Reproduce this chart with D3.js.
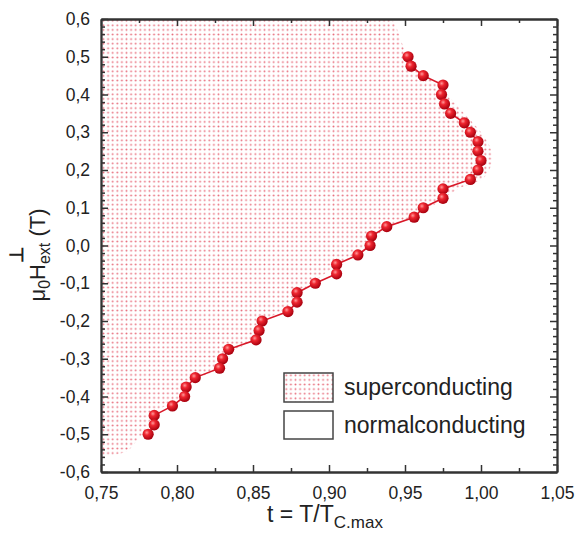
<!DOCTYPE html>
<html lang="en">
<head>
<meta charset="UTF-8">
<title>Phase diagram</title>
<script src="https://d3js.org/d3.v7.min.js"></script>
<style>
  body { margin: 0; background: #fff; }
  text { font-family: Arial, "Liberation Sans", sans-serif; fill: #222; }
</style>
</head>
<body>
<div id="chart"></div>
<script>
// measured boundary: reduced temperature t and field H (T)
const fieldH = [0.500, 0.475, 0.450, 0.425, 0.400, 0.375, 0.350, 0.325, 0.300, 0.275,
                0.250, 0.225, 0.200, 0.175, 0.150, 0.125, 0.100, 0.075, 0.050, 0.025,
                0.000, -0.025, -0.050, -0.075, -0.100, -0.125, -0.150, -0.175, -0.200, -0.225,
                -0.250, -0.275, -0.300, -0.325, -0.350, -0.375, -0.400, -0.425, -0.450, -0.475, -0.500];
const tempT = [0.952, 0.954, 0.962, 0.975, 0.974, 0.976, 0.980, 0.989, 0.993, 0.998,
               0.998, 1.000, 0.998, 0.993, 0.975, 0.975, 0.962, 0.956, 0.938, 0.928,
               0.927, 0.919, 0.905, 0.905, 0.891, 0.879, 0.879, 0.873, 0.856, 0.854,
               0.852, 0.834, 0.830, 0.828, 0.812, 0.806, 0.805, 0.797, 0.785, 0.785, 0.781];

// outline of the dotted (superconducting) area, [t, H]
const shadeEdge = [[0.75, 0.6], [0.940, 0.6], [0.946, 0.56], [0.949, 0.525], [0.955, 0.48],
                   [0.968, 0.44], [0.980, 0.39], [0.990, 0.345], [1.000, 0.30], [1.006, 0.26],
                   [1.007, 0.22], [1.002, 0.18], [0.985, 0.15], [0.970, 0.11], [0.952, 0.07],
                   [0.932, 0.03], [0.918, -0.02], [0.902, -0.06], [0.886, -0.11], [0.874, -0.16],
                   [0.858, -0.20], [0.851, -0.25], [0.831, -0.29], [0.826, -0.33], [0.808, -0.36],
                   [0.800, -0.41], [0.786, -0.44], [0.779, -0.49], [0.773, -0.52], [0.767, -0.545],
                   [0.752, -0.56], [0.75, -0.565]];

const xTicks = [0.75, 0.80, 0.85, 0.90, 0.95, 1.00, 1.05];
const yTicks = [-0.6, -0.5, -0.4, -0.3, -0.2, -0.1, 0.0, 0.1, 0.2, 0.3, 0.4, 0.5, 0.6];
const legendLabels = ["superconducting", "normalconducting"];

const W = 575, H = 541;
const m = {left: 101, right: 18, top: 19, bottom: 69};

const svg = d3.select("#chart").append("svg")
  .attr("width", W).attr("height", H);

const defs = svg.append("defs");
const pat = defs.append("pattern")
  .attr("id", "dots").attr("patternUnits", "userSpaceOnUse")
  .attr("width", 4.6).attr("height", 4.6);
pat.append("circle").attr("cx", 2.3).attr("cy", 2.3).attr("r", 0.95).attr("fill", "#e8707f");

const grad = defs.append("radialGradient")
  .attr("id", "ball").attr("cx", "38%").attr("cy", "35%").attr("r", "65%");
grad.append("stop").attr("offset", "0%").attr("stop-color", "#ff9a9a");
grad.append("stop").attr("offset", "35%").attr("stop-color", "#ee2630");
grad.append("stop").attr("offset", "100%").attr("stop-color", "#a8000e");

defs.append("clipPath").attr("id", "plotclip").append("rect")
  .attr("x", m.left).attr("y", m.top)
  .attr("width", W - m.left - m.right).attr("height", H - m.top - m.bottom);

const x = d3.scaleLinear().domain([0.75, 1.05]).range([m.left, W - m.right]);
const y = d3.scaleLinear().domain([-0.6, 0.6]).range([H - m.bottom, m.top]);

const fmt = d => d3.format(".2f")(d).replace(".", ",");
const fmtY = d => d3.format(".1f")(d).replace(".", ",").replace("\u2212", "-");

// dotted area
svg.append("path")
  .attr("clip-path", "url(#plotclip)")
  .attr("d", d3.line().x(d => x(d[0])).y(d => y(d[1])).curve(d3.curveCatmullRom)(shadeEdge))
  .attr("fill", "url(#dots)");

// axes (ticks inward)
const xMinor = d3.range(0.775, 1.05, 0.05);
const yMinor = d3.range(-0.58, 0.6, 0.02).filter(v => Math.abs(v * 10 - Math.round(v * 10)) > 0.01);

const bottomAx = svg.append("g").attr("transform", `translate(0,${H - m.bottom})`);
bottomAx.call(d3.axisBottom(x).tickValues(xTicks).tickFormat(fmt).tickSizeInner(-7).tickSizeOuter(0).tickPadding(15));
bottomAx.append("g").call(d3.axisBottom(x).tickValues(xMinor).tickFormat("").tickSizeInner(-4).tickSizeOuter(0));

const topAx = svg.append("g").attr("transform", `translate(0,${m.top})`);
topAx.call(d3.axisTop(x).tickValues(xTicks).tickFormat("").tickSizeInner(-7).tickSizeOuter(0));
topAx.append("g").call(d3.axisTop(x).tickValues(xMinor).tickFormat("").tickSizeInner(-4).tickSizeOuter(0));

const leftAx = svg.append("g").attr("transform", `translate(${m.left},0)`);
leftAx.call(d3.axisLeft(y).tickValues(yTicks).tickFormat(fmtY).tickSizeInner(-7).tickSizeOuter(0).tickPadding(11));
leftAx.append("g").call(d3.axisLeft(y).tickValues(yMinor).tickFormat("").tickSizeInner(-4).tickSizeOuter(0));

const rightAx = svg.append("g").attr("transform", `translate(${W - m.right},0)`);
rightAx.call(d3.axisRight(y).tickValues(yTicks).tickFormat("").tickSizeInner(-7).tickSizeOuter(0));
rightAx.append("g").call(d3.axisRight(y).tickValues(yMinor).tickFormat("").tickSizeInner(-4).tickSizeOuter(0));

svg.selectAll(".domain").attr("stroke", "#333").attr("stroke-width", 1.8);
svg.selectAll(".tick line").attr("stroke", "#333").attr("stroke-width", 1.5);
svg.selectAll(".tick text").attr("font-size", 17.5).attr("fill", "#333")
  .attr("font-family", "Arial, 'Liberation Sans', sans-serif");

// measured line and markers
const pts = tempT.map((t, i) => [t, fieldH[i]]);
svg.append("path")
  .attr("d", d3.line().x(d => x(d[0])).y(d => y(d[1]))(pts))
  .attr("fill", "none").attr("stroke", "#d81828").attr("stroke-width", 1.6);

svg.selectAll("circle.pt").data(pts).join("circle")
  .attr("class", "pt")
  .attr("cx", d => x(d[0])).attr("cy", d => y(d[1]))
  .attr("r", 5.6).attr("fill", "url(#ball)");

// legend
const lg = svg.append("g").attr("transform", "translate(284,373)");
lg.append("rect").attr("width", 49).attr("height", 29)
  .attr("fill", "url(#dots)").attr("stroke", "#444").attr("stroke-width", 1.5);
lg.append("rect").attr("y", 38).attr("width", 49).attr("height", 28)
  .attr("fill", "#fff").attr("stroke", "#444").attr("stroke-width", 1.5);
lg.selectAll("text.lab").data(legendLabels).join("text")
  .attr("class", "lab")
  .attr("x", 60).attr("y", (d, i) => 22 + i * 38)
  .attr("font-size", 23)
  .text(d => d);

// x label
const xl = svg.append("text")
  .attr("x", 325).attr("y", 522).attr("text-anchor", "middle").attr("font-size", 23);
xl.append("tspan").text("t = T/T");
xl.append("tspan").attr("font-size", 17).attr("dy", 6).text("C.max");

// y label
const yg = svg.append("g").attr("transform", "translate(45,255) rotate(-90)");
const yl = yg.append("text").attr("text-anchor", "middle").attr("font-size", 22);
yl.append("tspan").text("μ");
yl.append("tspan").attr("font-size", 16).attr("dy", 5).text("0");
yl.append("tspan").attr("dy", -5).text("H");
yl.append("tspan").attr("font-size", 16).attr("dy", 5).text("ext");
yl.append("tspan").attr("dy", -5).text(" (T)");

// place the perpendicular sign above the start of "ext"
const extStart = yl.node().getStartPositionOfChar(3);
yg.append("text")
  .attr("x", extStart.x + 1).attr("y", -22)
  .attr("font-size", 19).attr("font-weight", "bold")
  .text("⊥");
</script>
</body>
</html>
